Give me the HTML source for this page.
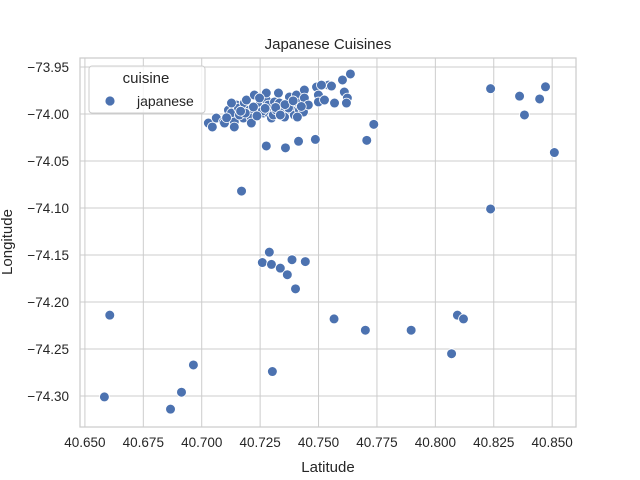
<!DOCTYPE html>
<html><head><meta charset="utf-8"><style>
body{margin:0;background:#fff}
svg{display:block;font-family:"Liberation Sans",Arial,sans-serif}
</style></head><body>
<svg id="chart" width="640" height="480">
<rect width="640" height="480" fill="#fff"/>
<g id="grid"></g><g id="ticks"></g><g id="pts"></g>
<rect x="80" y="58" width="496" height="369" fill="none" stroke="#cccccc" stroke-width="1.25"/>
<text x="328" y="49" text-anchor="middle" font-size="15" fill="#262626">Japanese Cuisines</text>
<text x="328" y="472" text-anchor="middle" font-size="15" fill="#262626">Latitude</text>
<text x="12" y="242" text-anchor="middle" font-size="15" fill="#262626" transform="rotate(-90 12 242)">Longitude</text>
<g>
<rect x="89" y="66" width="116" height="47" rx="3" fill="#fff" fill-opacity="0.8" stroke="#cccccc"/>
<text x="146" y="83" text-anchor="middle" font-size="15" fill="#262626">cuisine</text>
<circle cx="110" cy="101" r="5" fill="#4c72b0" stroke="#fff" stroke-width="0.8"/>
<text x="137" y="106" font-size="14" fill="#262626">japanese</text>
</g>
</svg>
<script>
const xTicks=[40.650,40.675,40.700,40.725,40.750,40.775,40.800,40.825,40.850];
const yTicks=[-73.95,-74.00,-74.05,-74.10,-74.15,-74.20,-74.25,-74.30];
const lats=[40.6577,40.660,40.686,40.6907,40.6958,40.7164,40.727,40.7352,40.7408,40.748,40.770,40.773,
40.7253,40.7283,40.7292,40.733,40.736,40.738,40.7437,40.7395,40.7296,
40.756,40.7694,40.789,40.8063,40.8088,40.8114,
40.823,40.823,40.8354,40.8375,40.844,40.8465,40.8503,
40.7022,40.7039,40.7056,40.7086,40.7091,40.7108,40.7121,40.7133,40.7133,40.7142,40.7151,40.7172,40.7176,40.7185,40.7198,40.7206,40.7206,40.7219,40.7236,40.7258,40.7270,40.7270,40.7279,40.7279,40.7292,40.7300,40.7305,40.7313,40.7326,40.7343,40.7348,40.7365,40.7369,40.7377,40.7390,40.7399,40.7408,40.7412,40.7429,40.7433,40.7433,40.7450,40.7403,40.7485,40.7493,40.7493,40.7519,40.7536,40.7549,40.7562,40.7596,40.7604,40.7617,40.7613,40.7630,40.7506,40.7241,40.7253,40.7215,40.7155,40.7121,40.7322,40.7365,
40.7180,40.7230,40.7265,40.7310,40.7350,40.7385,40.7420,40.7160,40.7100,40.7330];
const lons=[-74.301,-74.214,-74.314,-74.296,-74.267,-74.082,-74.034,-74.036,-74.029,-74.027,-74.028,-74.011,
-74.158,-74.147,-74.160,-74.164,-74.171,-74.155,-74.157,-74.186,-74.274,
-74.218,-74.230,-74.230,-74.255,-74.214,-74.218,
-73.973,-74.101,-73.981,-74.001,-73.984,-73.971,-74.041,
-74.0096,-74.0138,-74.0043,-74.0085,-74.0096,-73.9958,-73.9989,-74.0085,-74.0138,-73.9904,-73.9936,-74.0043,-73.9883,-73.9851,-73.9958,-74.0043,-74.0096,-73.9798,-73.9915,-73.9989,-73.9851,-73.9777,-73.9904,-73.9989,-74.0043,-74.0011,-73.9872,-73.9958,-73.9883,-73.9979,-74.0032,-73.9883,-73.9819,-73.9958,-74.0011,-73.9798,-73.9883,-73.9958,-73.9979,-73.9745,-73.9830,-73.9904,-74.0032,-73.9713,-73.9798,-73.9872,-73.9851,-73.9692,-73.9702,-73.9883,-73.9638,-73.9766,-73.9830,-73.9883,-73.9574,-73.9692,-73.9830,-73.9968,-73.9926,-74.0011,-73.9883,-73.9777,-73.9936,
-73.9990,-74.0020,-73.9940,-73.9930,-73.9900,-73.9860,-73.9920,-73.9970,-74.0040,-74.0010];
const NS="http://www.w3.org/2000/svg";
const X0=40.6479,X1=40.8602,Y0=-73.9404,Y1=-74.333;
function sx(v){return 80+(v-X0)/(X1-X0)*496;}
function sy(v){return 58+(v-Y0)/(Y1-Y0)*369;}
function mk(tag,attrs,parent){const e=document.createElementNS(NS,tag);for(const k in attrs)e.setAttribute(k,attrs[k]);parent.appendChild(e);return e;}
const grid=document.getElementById('grid'),ticks=document.getElementById('ticks'),pts=document.getElementById('pts');
xTicks.forEach(t=>{const x=sx(t);
 const l=mk('line',{x1:x,x2:x,y1:58,y2:427,stroke:'#cccccc','stroke-width':1},grid);
 
 
 const tx=mk('text',{x:x,y:447,'text-anchor':'middle','font-size':13.5,fill:'#262626'},ticks);tx.textContent=t.toFixed(3);
 
 });
yTicks.forEach(t=>{const y=sy(t);
 const l=mk('line',{x1:80,x2:576,y1:y,y2:y,stroke:'#cccccc','stroke-width':1},grid);
 
 
 const tx=mk('text',{x:69,y:y+5,'text-anchor':'end','font-size':13.5,fill:'#262626'},ticks);tx.textContent=t.toFixed(2).replace('-','\u2212');
 
 });
lats.forEach((la,i)=>{const c=mk('circle',{cx:sx(la)+1.5,cy:sy(lons[i]),r:4.9,fill:'#4c72b0',stroke:'#fff','stroke-width':0.8},pts);
 
 });
</script>
</body></html>
